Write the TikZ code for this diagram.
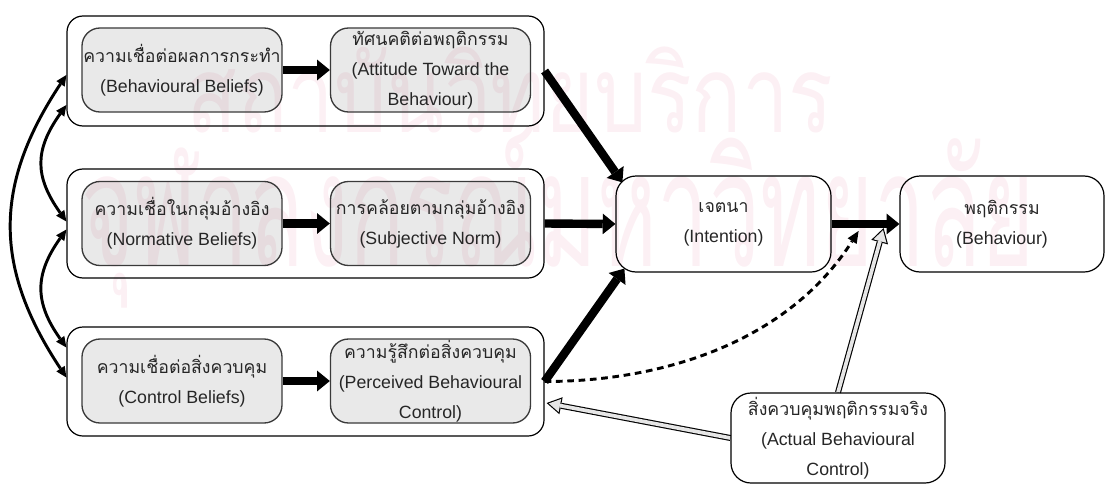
\documentclass[tikz,border=0pt]{standalone}
\usepackage{fontspec}
\setmainfont{Liberation Sans}
\newfontfamily\thai[Script=Thai]{Loma}
\usetikzlibrary{arrows.meta,calc}
\pgfdeclarelayer{wm}
\pgfdeclarelayer{links}
\pgfsetlayers{wm,links,main}

\definecolor{inkgray}{HTML}{262626}
\definecolor{boxline}{HTML}{3A3A3A}
\definecolor{hollowfill}{HTML}{E6E6E6}
\definecolor{wmark}{RGB}{252,240,244}

\newcommand\tht[1]{{\thai #1}}

\tikzset{
  every node/.style={font=\fontsize{13.3}{22.5}\selectfont, text=inkgray,
    align=center, inner sep=0pt},
  outerbox/.style={draw=black, line width=0.9pt, rounded corners=12pt,
    minimum width=357.75pt, minimum height=82.5pt},
  innerbox/.style={draw=boxline, line width=1pt, rounded corners=13.5pt,
    fill=black, fill opacity=0.088, text opacity=1,
    minimum width=150pt, minimum height=63pt},
  mainbox/.style={draw=black, line width=0.9pt, rounded corners=15pt,
    minimum width=161.25pt, minimum height=72pt},
  wmtext/.style={text=wmark, font=\thai\fontsize{#1}{#1}\selectfont, anchor=base},
  heavyarrow/.style={draw=black, line width=6.3pt,
    -{Triangle[length=9.5pt, width=15.5pt, line width=0pt]}},
  linkarrow/.style={draw=black, line width=2.2pt,
    {Triangle[length=8pt, width=7.5pt, line width=0pt]}-{Triangle[length=8pt, width=7.5pt, line width=0pt]}},
  dasharrow/.style={draw=black, line width=2.2pt, dash pattern=on 5pt off 3.5pt,
    -{Triangle[length=9pt, width=8pt, line width=0pt]}},
  hollowout/.style={draw=black, line width=4.5pt,
    -{Triangle[length=11pt, width=13pt, line width=0pt]}},
  hollowin/.style={draw=hollowfill, line width=2.8pt, shorten >=1.67pt,
    -{Triangle[length=8.5pt, width=10pt, line width=0pt]}},
}

\begin{document}
\begin{tikzpicture}[x=0.75pt,y=-0.75pt]
\useasboundingbox (0,0) rectangle (1105,485);

% faint institutional watermark behind everything
\begin{pgfonlayer}{wm}
  \node[wmtext=80] (wmA) at (510,132) {\scalebox{0.78}[1]{สถาบันวิทยบริการ}};
  \node[wmtext=120] (wmB) at (558,266) {\scalebox{0.57}[1]{จุฬาลงกรณ์มหาวิทยาลัย}};
\end{pgfonlayer}

% grouping frames
\node[outerbox] (o1) at (305.5,71) {};
\node[outerbox, minimum height=81.75pt] (o2) at (305.5,223.5) {};
\node[outerbox, minimum height=81.75pt] (o3) at (305.5,381.5) {};

% belief / attitude boxes
\node[innerbox] (bb)  at (182,70)    {\tht{ความเชื่อต่อผลการกระทำ}\\(Behavioural Beliefs)};
\node[innerbox] (att) at (430.5,70)  {\tht{ทัศนคติต่อพฤติกรรม}\\(Attitude Toward the\\Behaviour)};
\node[innerbox] (nb)  at (182,223.5) {\tht{ความเชื่อในกลุ่มอ้างอิง}\\(Normative Beliefs)};
\node[innerbox] (sn)  at (430.5,223.5) {\tht{การคล้อยตามกลุ่มอ้างอิง}\\(Subjective Norm)};
\node[innerbox] (cb)  at (182,381)   {\tht{ความเชื่อต่อสิ่งควบคุม}\\(Control Beliefs)};
\node[innerbox] (pbc) at (430.5,381) {\tht{ความรู้สึกต่อสิ่งควบคุม}\\(Perceived Behavioural\\Control)};

% intention, behaviour, actual control
\node[mainbox] (int) at (723.5,224) {\tht{เจตนา}\\(Intention)};
\node[mainbox, minimum width=153pt] (beh) at (1002,224) {\tht{พฤติกรรม}\\(Behaviour)};
\node[mainbox, minimum width=160.5pt, minimum height=67.5pt] (act) at (838,438)
  {\tht{สิ่งควบคุมพฤติกรรมจริง}\\(Actual Behavioural\\Control)};

\begin{pgfonlayer}{links}
  % within-frame arrows
  \draw[heavyarrow] (bb) -- (att);
  \draw[heavyarrow] (nb) -- (sn);
  \draw[heavyarrow] (cb) -- (pbc);
  % frames to intention
  \draw[heavyarrow] (o1.east) -- ($(int.north west)+(7,7)$);
  \draw[heavyarrow] (o2.east) -- (int.west);
  \draw[heavyarrow] (o3.east) -- ($(int.south west)+(9,-4)$);
  % intention to behaviour
  \draw[heavyarrow] (int) -- (beh);

  % correlations between belief frames
  \draw[linkarrow] ($(o1.west)+(0,34)$) .. controls +(-32,45) and +(-32,-45) .. ($(o2.west)+(0,-2)$);
  \draw[linkarrow] ($(o2.west)+(0,6)$) .. controls +(-32,45) and +(-32,-45) .. ($(o3.west)+(0,-34)$);
  \draw[linkarrow] ($(o1.west)+(0,4)$) .. controls +(-73,110) and +(-73,-110) .. ($(o3.west)+(0,-4)$);

  % perceived control moderating intention -> behaviour
  \draw[dasharrow] (o3.east) .. controls +(120,0) and +(-70,110) .. ($(int.east)+(27,7)$);

  % actual behavioural control (outlined arrows)
  \draw[hollowout] (act.north) -- ($(int.east)+(52,4)$);
  \draw[hollowin]  (act.north) -- ($(int.east)+(52,4)$);
  \draw[hollowout] (act.west) -- ($(o3.east)+(2,21.5)$);
  \draw[hollowin]  (act.west) -- ($(o3.east)+(2,21.5)$);
\end{pgfonlayer}
\end{tikzpicture}
\end{document}
